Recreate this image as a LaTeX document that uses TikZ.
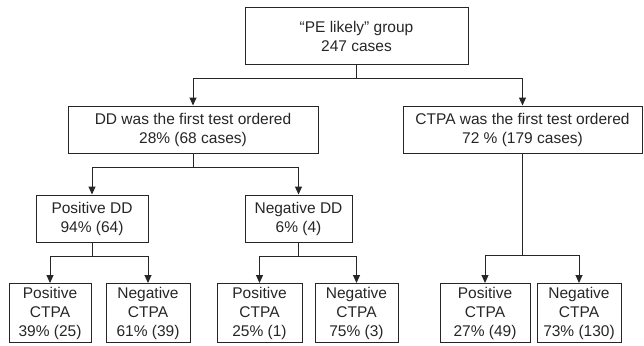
\documentclass[tikz,border=0pt]{standalone}
\usepackage{fontspec}
\setmainfont{Liberation Sans}
\usetikzlibrary{arrows.meta,calc}
\begin{document}
\begin{tikzpicture}[x=1pt,y=-1pt,
  box/.style={draw=black!85,line width=1pt,rectangle,inner sep=0pt,align=center,
    font=\fontsize{15.5}{19}\selectfont,text=black!85},
  link/.style={draw=black!85,line width=1pt},
  arr/.style={link,-{Triangle[length=8pt,width=7pt]}}]
\useasboundingbox (0,0) rectangle (644,345);
\node[box,minimum width=223pt,minimum height=56pt] (top) at (356.5,36) {“PE likely” group\\247 cases};
\node[box,minimum width=250pt,minimum height=47pt] (dd) at (193,129.5) {DD was the first test ordered\\28\% (68 cases)};
\node[box,minimum width=239pt,minimum height=47pt] (ctpa) at (522.5,129.5) {CTPA was the first test ordered\\72 \% (179 cases)};
\node[box,minimum width=112pt,minimum height=47pt] (pdd) at (92,218.5) {Positive DD\\94\% (64)};
\node[box,minimum width=107pt,minimum height=47pt] (ndd) at (298.5,218.5) {Negative DD\\6\% (4)};
\node[box,minimum width=82pt,minimum height=59pt] (b1) at (50,313) {Positive\\CTPA\\39\% (25)};
\node[box,minimum width=84pt,minimum height=59pt] (b2) at (148,313) {Negative\\CTPA\\61\% (39)};
\node[box,minimum width=85pt,minimum height=59pt] (b3) at (259.5,313) {Positive\\CTPA\\25\% (1)};
\node[box,minimum width=83pt,minimum height=59pt] (b4) at (356.5,313) {Negative\\CTPA\\75\% (3)};
\node[box,minimum width=90pt,minimum height=59pt] (b5) at (485,313) {Positive\\CTPA\\27\% (49)};
\node[box,minimum width=84pt,minimum height=59pt] (b6) at (579,313) {Negative\\CTPA\\73\% (130)};
% top split
\coordinate (j1) at ($(top.south)+(0,14)$);
\draw[link] (top.south) -- (j1);
\draw[arr] (j1) -| (dd.north);
\draw[arr] (j1) -| (ctpa.north);
% DD split
\coordinate (j2) at ($(dd.south)+(0,14)$);
\draw[link] (dd.south) -- (j2);
\draw[arr] (j2) -| (pdd.north);
\draw[arr] (j2) -| (ndd.north);
% positive DD split
\coordinate (j3) at ($(pdd.south)+(0,14)$);
\draw[link] (pdd.south) -- (j3);
\draw[arr] (j3) -| (b1.north);
\draw[arr] (j3) -| (b2.north);
% negative DD split
\coordinate (j4) at ($(ndd.south)+(0,14)$);
\draw[link] (ndd.south) -- (j4);
\draw[arr] (j4) -| (b3.north);
\draw[arr] (j4) -| (b4.north);
% CTPA split
\coordinate (j5) at ($(ctpa.south |- j4)+(0,-1)$);
\draw[link] (ctpa.south) -- (j5);
\draw[arr] (j5) -| (b5.north);
\draw[arr] (j5) -| (b6.north);
\end{tikzpicture}
\end{document}
